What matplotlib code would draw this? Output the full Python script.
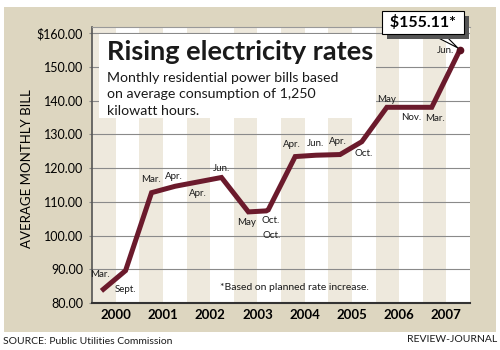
import matplotlib
matplotlib.use("Agg")
import matplotlib.pyplot as plt
import matplotlib.patheffects as pe
from matplotlib.patches import Rectangle

# data (x = fractional year of each rate change)
month_labels = ["Mar.", "Sept.", "Mar.", "Apr.", "Apr.", "Jun.", "May", "Oct.", "Oct.",
                "Apr.", "Jun.", "Apr.", "Oct.", "May", "Nov.", "Mar.", "Jun."]
x_pos = [2000.20, 2000.71, 2001.26, 2001.76, 2002.25, 2002.74, 2003.31, 2003.69, 2003.73,
         2004.30, 2004.74, 2005.25, 2005.71, 2006.24, 2006.76, 2007.19, 2007.79]
bills = [83.6, 89.6, 112.7, 114.6, 115.9, 117.2, 107.0, 107.3, 107.6,
         123.4, 123.8, 124.0, 127.8, 138.0, 138.0, 138.0, 155.11]
years = [2000, 2001, 2002, 2003, 2004, 2005, 2006, 2007]
y_ticks = [80, 90, 100, 110, 120, 130, 140, 150, 160]
y_tick_labels = ["80.00", "90.00", "100.00", "110.00", "120.00", "130.00", "140.00", "150.00", "$160.00"]
subtitle_lines = ["Monthly residential power bills based",
                  "on average consumption of 1,250",
                  "kilowatt hours."]

# label offsets from each point, in pixels (dx, dy up)
label_offsets = [(-2, 16), (0, -19), (-1, 13), (-1, 10), (0, -12), (0, 9), (-2, -11), (4, -10), (3, -26),
                 (-3, 12), (0, 12), (-2, 13), (2, -12), (0, 8), (0, -10), (3, -11), (-15, -1)]

PANEL = "#ddd6c0"
STRIPE = "#eee9dd"
LINE = "#6b1a2c"
W, H = 500, 350

plt.rcParams["font.family"] = ["Lato", "DejaVu Sans"]
plt.rcParams["text.color"] = "#1a1a1a"

fig = plt.figure(figsize=(5, 3.5), dpi=100)
fig.patch.set_facecolor("white")
fig.add_artist(Rectangle((4 / W, 1 - 332 / H), 492 / W, 325 / H, transform=fig.transFigure,
                         facecolor=PANEL, edgecolor="none", zorder=0))

ax = fig.add_axes([92 / W, 1 - 303 / H, 378 / W, 276 / H])
ax.set_zorder(1)
ax.set_facecolor("white")
ax.set_xlim(2000, 2008)
ax.set_ylim(80, 161.8)

# alternating half-year stripes
for yr in years:
    ax.axvspan(yr, yr + 0.5, color=STRIPE, lw=0, zorder=0.1)

ax.set_axisbelow(True)
ax.yaxis.grid(True, color="#8a8a8a", lw=0.8)

# white box behind the headline
ax.add_patch(Rectangle((0.0185, 0.670), 0.732, 0.303, transform=ax.transAxes,
                       facecolor="white", edgecolor="none", zorder=1.5))

ax.plot(x_pos, bills, color=LINE, lw=3.6, solid_joinstyle="miter", solid_capstyle="butt", zorder=3)
ax.plot(x_pos[-1], bills[-1], "o", ms=4.5, color="#5a1020", zorder=4)

for lab, x, y, (dx, dy) in zip(month_labels, x_pos, bills, label_offsets):
    ax.annotate(lab, (x, y), xytext=(dx, dy), textcoords="offset pixels",
                ha="center", va="center", fontsize=7, zorder=5)

ann = ax.annotate(f" ${bills[-1]:.2f}* ", (x_pos[-1], bills[-1]), xytext=(-37, 27),
                  textcoords="offset pixels", ha="center", va="center",
                  fontsize=11.5, fontweight="bold", color="black",
                  bbox=dict(boxstyle="square,pad=0.25", fc="white", ec="black", lw=0.8),
                  arrowprops=dict(arrowstyle="wedge,tail_width=0.45", fc="white", ec="black",
                                  lw=0.8, shrinkA=0, shrinkB=2),
                  zorder=6, annotation_clip=False)
ann.get_bbox_patch().set_path_effects([
    pe.SimplePatchShadow(offset=(3.5, -3.5), shadow_rgbFace="#555555", alpha=1.0), pe.Normal()])

ax.set_yticks(y_ticks, y_tick_labels, fontsize=9)
ax.set_xticks([yr + 0.5 for yr in years], [str(yr) for yr in years],
              fontsize=9.5, fontweight="bold")
ax.tick_params(axis="y", length=2.5, color="#888888", pad=4)
ax.tick_params(axis="x", length=0, pad=4)

ax.set_ylabel("AVERAGE MONTHLY BILL", fontsize=9.5)
ax.yaxis.set_label_coords((33 - 92) / 378, (303 - 169) / 276)

ax.spines["right"].set_visible(False)
ax.spines["left"].set_color("#555555")
ax.spines["left"].set_linewidth(1.2)
ax.spines["bottom"].set_color("#333333")
ax.spines["bottom"].set_linewidth(1.5)
ax.spines["top"].set_color("#999999")
ax.spines["top"].set_linewidth(0.8)

fig.text(107 / W, 1 - 60 / H, "Rising electricity rates", fontsize=19.5, fontweight="bold",
         va="baseline", zorder=5)
for i, line in enumerate(subtitle_lines):
    fig.text(107 / W, 1 - (82 + 16.5 * i) / H, line, fontsize=10.2, va="baseline", zorder=5)

fig.text(220 / W, 1 - 288 / H, "*Based on planned rate increase.", fontsize=7.5, va="center", zorder=5)
fig.text(3 / W, 1 - 341 / H, "SOURCE: Public Utilities Commission", fontsize=7.5, va="center")
fig.text(497 / W, 1 - 340 / H, "REVIEW-JOURNAL", fontsize=7.5, va="center", ha="right")

fig.savefig("out.png", dpi=100)
